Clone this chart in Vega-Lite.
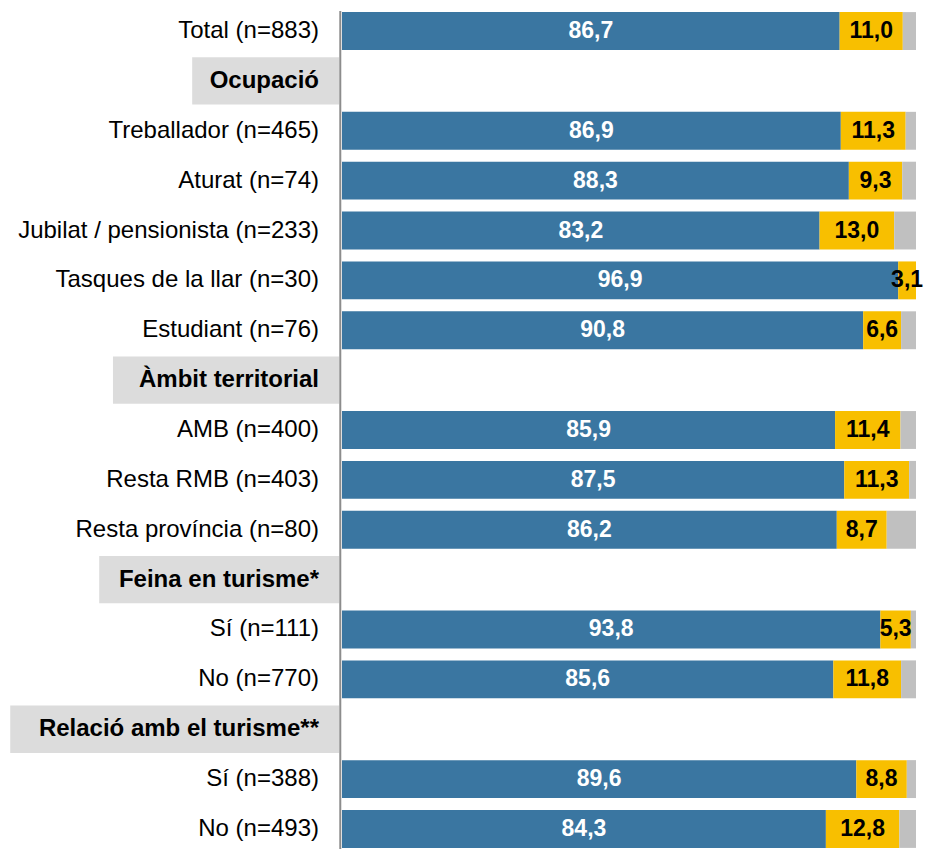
{
  "$schema": "https://vega.github.io/schema/vega-lite/v6.json",
  "autosize": "none",
  "width": 574,
  "height": 838,
  "padding": {"left": 342, "right": 14, "top": 11, "bottom": 0},
  "background": "white",
  "config": {
    "view": {"stroke": null},
    "font": "Liberation Sans",
    "locale": {"number": {"decimal": ",", "thousands": ".", "grouping": [3], "currency": ["", " €"]}}
  },
  "datasets": {
    "rows": [
      {"label": "Total (n=883)", "header": false},
      {"label": "Ocupació", "header": true},
      {"label": "Treballador (n=465)", "header": false},
      {"label": "Aturat (n=74)", "header": false},
      {"label": "Jubilat / pensionista (n=233)", "header": false},
      {"label": "Tasques de la llar (n=30)", "header": false},
      {"label": "Estudiant (n=76)", "header": false},
      {"label": "Àmbit territorial", "header": true},
      {"label": "AMB (n=400)", "header": false},
      {"label": "Resta RMB (n=403)", "header": false},
      {"label": "Resta província (n=80)", "header": false},
      {"label": "Feina en turisme*", "header": true},
      {"label": "Sí (n=111)", "header": false},
      {"label": "No (n=770)", "header": false},
      {"label": "Relació amb el turisme**", "header": true},
      {"label": "Sí (n=388)", "header": false},
      {"label": "No (n=493)", "header": false}
    ],
    "bars": [
      {"label": "Total (n=883)", "k": 1, "value": 86.7},
      {"label": "Total (n=883)", "k": 2, "value": 11.0},
      {"label": "Total (n=883)", "k": 3, "value": 2.3},
      {"label": "Treballador (n=465)", "k": 1, "value": 86.9},
      {"label": "Treballador (n=465)", "k": 2, "value": 11.3},
      {"label": "Treballador (n=465)", "k": 3, "value": 1.8},
      {"label": "Aturat (n=74)", "k": 1, "value": 88.3},
      {"label": "Aturat (n=74)", "k": 2, "value": 9.3},
      {"label": "Aturat (n=74)", "k": 3, "value": 2.4},
      {"label": "Jubilat / pensionista (n=233)", "k": 1, "value": 83.2},
      {"label": "Jubilat / pensionista (n=233)", "k": 2, "value": 13.0},
      {"label": "Jubilat / pensionista (n=233)", "k": 3, "value": 3.8},
      {"label": "Tasques de la llar (n=30)", "k": 1, "value": 96.9},
      {"label": "Tasques de la llar (n=30)", "k": 2, "value": 3.1},
      {"label": "Tasques de la llar (n=30)", "k": 3, "value": 0},
      {"label": "Estudiant (n=76)", "k": 1, "value": 90.8},
      {"label": "Estudiant (n=76)", "k": 2, "value": 6.6},
      {"label": "Estudiant (n=76)", "k": 3, "value": 2.6},
      {"label": "AMB (n=400)", "k": 1, "value": 85.9},
      {"label": "AMB (n=400)", "k": 2, "value": 11.4},
      {"label": "AMB (n=400)", "k": 3, "value": 2.7},
      {"label": "Resta RMB (n=403)", "k": 1, "value": 87.5},
      {"label": "Resta RMB (n=403)", "k": 2, "value": 11.3},
      {"label": "Resta RMB (n=403)", "k": 3, "value": 1.2},
      {"label": "Resta província (n=80)", "k": 1, "value": 86.2},
      {"label": "Resta província (n=80)", "k": 2, "value": 8.7},
      {"label": "Resta província (n=80)", "k": 3, "value": 5.1},
      {"label": "Sí (n=111)", "k": 1, "value": 93.8},
      {"label": "Sí (n=111)", "k": 2, "value": 5.3},
      {"label": "Sí (n=111)", "k": 3, "value": 0.9},
      {"label": "No (n=770)", "k": 1, "value": 85.6},
      {"label": "No (n=770)", "k": 2, "value": 11.8},
      {"label": "No (n=770)", "k": 3, "value": 2.6},
      {"label": "Sí (n=388)", "k": 1, "value": 89.6},
      {"label": "Sí (n=388)", "k": 2, "value": 8.8},
      {"label": "Sí (n=388)", "k": 3, "value": 1.6},
      {"label": "No (n=493)", "k": 1, "value": 84.3},
      {"label": "No (n=493)", "k": 2, "value": 12.8},
      {"label": "No (n=493)", "k": 3, "value": 2.9}
    ]
  },
  "layer": [
    {
      "data": {"name": "rows"},
      "transform": [{"filter": "datum.label == 'Ocupació'"}],
      "mark": {"type": "bar", "color": "#dcdcdc", "height": {"band": 1.25}},
      "encoding": {
        "y": {"field": "label", "type": "nominal", "axis": null, "scale": {"domain": ["Total (n=883)", "Ocupació", "Treballador (n=465)", "Aturat (n=74)", "Jubilat / pensionista (n=233)", "Tasques de la llar (n=30)", "Estudiant (n=76)", "Àmbit territorial", "AMB (n=400)", "Resta RMB (n=403)", "Resta província (n=80)", "Feina en turisme*", "Sí (n=111)", "No (n=770)", "Relació amb el turisme**", "Sí (n=388)", "No (n=493)"], "paddingInner": 0.24, "paddingOuter": 0.022}},
        "x": {"datum": -26.1, "type": "quantitative", "axis": null, "scale": {"domain": [0, 100], "nice": false, "zero": true}},
        "x2": {"datum": -0.5}
      }
    },
    {
      "data": {"name": "rows"},
      "transform": [{"filter": "datum.label == 'Àmbit territorial'"}],
      "mark": {"type": "bar", "color": "#dcdcdc", "height": {"band": 1.25}},
      "encoding": {"y": {"field": "label", "type": "nominal"}, "x": {"datum": -39.9, "type": "quantitative"}, "x2": {"datum": -0.5}}
    },
    {
      "data": {"name": "rows"},
      "transform": [{"filter": "datum.label == 'Feina en turisme*'"}],
      "mark": {"type": "bar", "color": "#dcdcdc", "height": {"band": 1.25}},
      "encoding": {"y": {"field": "label", "type": "nominal"}, "x": {"datum": -42.3, "type": "quantitative"}, "x2": {"datum": -0.5}}
    },
    {
      "data": {"name": "rows"},
      "transform": [{"filter": "datum.label == 'Relació amb el turisme**'"}],
      "mark": {"type": "bar", "color": "#dcdcdc", "height": {"band": 1.25}},
      "encoding": {"y": {"field": "label", "type": "nominal"}, "x": {"datum": -57.8, "type": "quantitative"}, "x2": {"datum": -0.5}}
    },
    {
      "data": {"name": "rows"},
      "transform": [{"filter": "!datum.header"}],
      "mark": {"type": "text", "align": "right", "baseline": "middle", "dx": -23, "fontSize": 24, "color": "#000000"},
      "encoding": {"y": {"field": "label", "type": "nominal"}, "x": {"datum": 0, "type": "quantitative"}, "text": {"field": "label", "type": "nominal"}}
    },
    {
      "data": {"name": "rows"},
      "transform": [{"filter": "datum.header"}],
      "mark": {"type": "text", "align": "right", "baseline": "middle", "dx": -23, "fontSize": 24, "fontWeight": "bold", "color": "#000000"},
      "encoding": {"y": {"field": "label", "type": "nominal"}, "x": {"datum": 0, "type": "quantitative"}, "text": {"field": "label", "type": "nominal"}}
    },
    {
      "data": {"name": "bars"},
      "mark": {"type": "bar"},
      "encoding": {
        "y": {"field": "label", "type": "nominal"},
        "x": {"field": "value", "type": "quantitative", "stack": "zero"},
        "color": {"field": "k", "type": "ordinal", "legend": null, "scale": {"domain": [1, 2, 3], "range": ["#3a76a1", "#f8bf00", "#c0c0c0"]}},
        "order": {"field": "k", "type": "quantitative"}
      }
    },
    {
      "data": {"name": "bars"},
      "mark": {"type": "text", "align": "center", "baseline": "middle", "fontSize": 23, "fontWeight": "bold"},
      "encoding": {
        "y": {"field": "label", "type": "nominal"},
        "x": {"field": "value", "type": "quantitative", "stack": "zero", "bandPosition": 0.5},
        "detail": {"field": "k", "type": "ordinal"},
        "order": {"field": "k", "type": "quantitative"},
        "text": {"condition": {"test": "datum.k == 3", "value": ""}, "field": "value", "type": "quantitative", "format": ".1f"},
        "color": {"condition": {"test": "datum.k == 1", "value": "#ffffff"}, "value": "#000000"}
      }
    },
    {
      "data": {"values": [{"a": 1}]},
      "mark": {"type": "rule", "color": "#8c8c8c", "strokeWidth": 2},
      "encoding": {"x": {"datum": -0.3, "type": "quantitative"}}
    }
  ]
}
